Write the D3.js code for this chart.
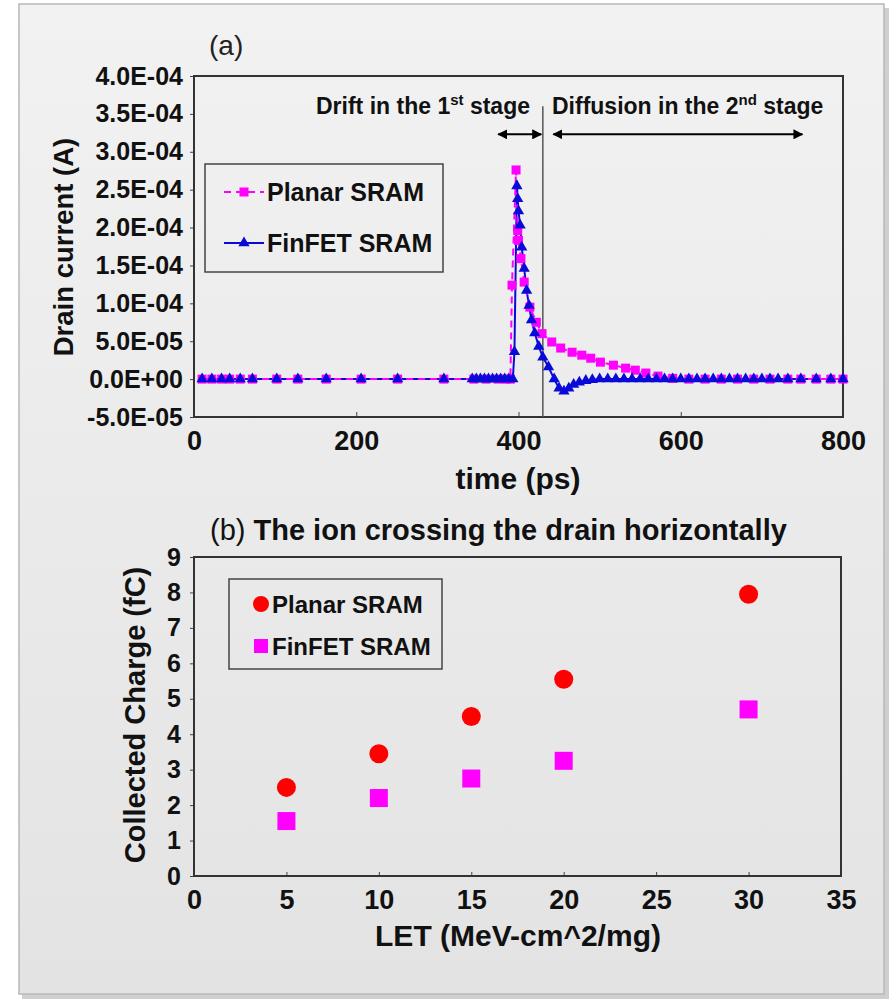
<!DOCTYPE html>
<html>
<head>
<meta charset="utf-8">
<script src="https://cdn.jsdelivr.net/npm/d3@7"></script>
<style>
  body { margin: 0; background: #ffffff; }
  svg { font-family: "Liberation Sans", Arial, sans-serif; }
</style>
</head>
<body>
<div id="chart"></div>
<script>
// ---- (a) drain current transients ----
var planarTime = [10, 22, 34, 44, 57, 72, 102, 128, 163, 206, 251, 308, 345, 360, 375, 385, 390,
  392, 397, 399, 400, 403, 407, 414, 422, 429, 441, 452, 466, 478, 489, 501, 517, 532, 544, 557, 572, 590,
  610, 630, 650, 670, 690, 710, 732, 748, 767, 785, 800];
var planarCurrent = [0, 0, 0, 0, 0, 0, 0, 0, 0, 0, 0, 0, 0, 0, 0, 0, 0,
  1.24e-4, 2.76e-4, 1.96e-4, 1.83e-4, 1.59e-4, 1.28e-4, 9.5e-5, 7.5e-5, 6.0e-5, 4.9e-5, 4.1e-5, 3.55e-5,
  3.16e-5, 2.76e-5, 2.24e-5, 1.84e-5, 1.45e-5, 1.18e-5, 8e-6, 4e-6, 1e-6,
  0, 0, 0, 0, 0, 0, 0, 0, 0, 0, 0];

var finfetTime = [10, 22, 34, 44, 57, 72, 102, 128, 163, 206, 251, 308, 343, 348, 353, 358, 363, 368, 373,
  378, 383, 388, 393, 395, 398, 399, 400, 402, 404, 407, 410, 413, 416, 420, 425, 430, 437, 444, 450, 456,
  462, 468, 475, 483, 491, 500, 510, 520, 530, 540, 550, 560, 570, 580, 590, 600, 610, 620, 630, 640, 650,
  660, 670, 680, 690, 700, 710, 720, 732, 748, 767, 785, 800];
var finfetCurrent = [0, 0, 0, 0, 0, 0, 0, 0, 0, 0, 0, 0, 0, 0, 0, 0, 0, 0, 0,
  0, 0, 0, 0, 3.6e-5, 2.55e-4, 2.38e-4, 2.22e-4, 2.03e-4, 1.74e-4, 1.46e-4, 1.17e-4, 9.7e-5, 7.8e-5, 6.1e-5,
  4.3e-5, 2.9e-5, 1.6e-5, 0, -1.2e-5, -1.6e-5, -1.2e-5, -7e-6, -4e-6, -2e-6, -1e-6,
  0, 0, 0, 0, 0, 0, 0, 0, 0, 0, 0, 0, 0, 0, 0, 0, 0, 0, 0, 0, 0, 0, 0, 0, 0, 0, 0, 0];

var timeTicks = [0, 200, 400, 600, 800];
var currentTicks = [-5e-5, 0, 5e-5, 1e-4, 1.5e-4, 2e-4, 2.5e-4, 3e-4, 3.5e-4, 4e-4];
var stageBoundary = 430;          // ps, vertical divider
var driftArrow = [375, 428];      // ps
var diffusionArrow = [443, 750];  // ps

// ---- (b) collected charge vs LET ----
var letValues = [5, 10, 15, 20, 30];
var planarCharge = [2.5, 3.45, 4.5, 5.55, 7.95];
var finfetCharge = [1.55, 2.2, 2.75, 3.25, 4.7];
var letTicks = [0, 5, 10, 15, 20, 25, 30, 35];
var chargeTicks = [0, 1, 2, 3, 4, 5, 6, 7, 8, 9];

var W = 893, H = 1000;
var BOLD = "bold";
var planarColor = "#ff00ff";
var finfetColor = "#0a0ad8";

var svg = d3.select("#chart").append("svg").attr("width", W).attr("height", H);

var defs = svg.append("defs");
var grad = defs.append("linearGradient").attr("id", "bg").attr("x1", 0).attr("y1", 0).attr("x2", 0).attr("y2", 1);
grad.append("stop").attr("offset", "0%").attr("stop-color", "#f2f2f2");
grad.append("stop").attr("offset", "100%").attr("stop-color", "#e3e3e3");

defs.append("marker").attr("id", "arrowEnd").attr("viewBox", "0 0 10 10")
  .attr("refX", 9).attr("refY", 5).attr("markerWidth", 5).attr("markerHeight", 5)
  .attr("orient", "auto-start-reverse")
  .append("path").attr("d", "M0,0L10,5L0,10z").attr("fill", "#000");

// panel with shadow
svg.append("rect").attr("x", 22).attr("y", 8).attr("width", 867).attr("height", 991).attr("fill", "#cfcfcf");
svg.append("rect").attr("x", 19).attr("y", 4).attr("width", 865).attr("height", 990)
  .attr("fill", "url(#bg)").attr("stroke", "#b8b8b8").attr("stroke-width", 1.5);

function sciLabel(v) {
  if (v === 0) return "0.0E+00";
  var s = v.toExponential(1).toUpperCase(); // e.g. 4.0E-4
  var m = s.split("E");
  var exp = parseInt(m[1], 10);
  var sign = exp < 0 ? "-" : "+";
  var e = Math.abs(exp);
  return m[0] + "E" + sign + (e < 10 ? "0" + e : e);
}

function frame(g, x, y) {
  g.append("rect")
    .attr("x", x.range()[0]).attr("y", y.range()[1])
    .attr("width", x.range()[1] - x.range()[0])
    .attr("height", y.range()[0] - y.range()[1])
    .attr("fill", "none").attr("stroke", "#333").attr("stroke-width", 2);
}

function styleAxis(sel, size) {
  sel.select(".domain").remove();
  sel.selectAll(".tick line").attr("stroke", "#444");
  sel.selectAll(".tick text")
    .attr("font-family", "'Liberation Sans', Arial, sans-serif")
    .attr("font-weight", BOLD).attr("font-size", size).attr("fill", "#111");
}

// ================= chart (a) =================
var xa = d3.scaleLinear().domain([0, 800]).range([194, 843]);
var ya = d3.scaleLinear().domain([-5e-5, 4e-4]).range([417, 76]);
var ga = svg.append("g");

ga.append("text").attr("x", 209).attr("y", 55).attr("font-size", 28).attr("fill", "#222").text("(a)");

var xAxisA = ga.append("g").attr("transform", "translate(0," + ya.range()[0] + ")")
  .call(d3.axisBottom(xa).tickValues(timeTicks).tickSize(-5).tickPadding(14).tickFormat(d3.format("d")));
styleAxis(xAxisA, 27);

var yAxisA = ga.append("g").attr("transform", "translate(" + xa.range()[0] + ",0)")
  .call(d3.axisLeft(ya).tickValues(currentTicks).tickSize(4).tickPadding(7).tickFormat(sciLabel));
styleAxis(yAxisA, 25);

frame(ga, xa, ya);

// stage divider + annotations
ga.append("line")
  .attr("x1", xa(stageBoundary)).attr("x2", xa(stageBoundary))
  .attr("y1", ya(3.6e-4)).attr("y2", ya.range()[0])
  .attr("stroke", "#555").attr("stroke-width", 1.5);

var arrowY = ya(3.23e-4);
[driftArrow, diffusionArrow].forEach(function (a) {
  ga.append("line")
    .attr("x1", xa(a[0])).attr("x2", xa(a[1]))
    .attr("y1", arrowY).attr("y2", arrowY)
    .attr("stroke", "#000").attr("stroke-width", 2)
    .attr("marker-start", "url(#arrowEnd)").attr("marker-end", "url(#arrowEnd)");
});

var textY = ya(3.5e-4);
var t1 = ga.append("text").attr("x", 316).attr("y", textY).attr("font-weight", BOLD).attr("font-size", 23).attr("fill", "#111");
t1.append("tspan").text("Drift in the 1");
t1.append("tspan").attr("font-size", 15).attr("dy", -9).text("st");
t1.append("tspan").attr("dy", 9).text(" stage");

var t2 = ga.append("text").attr("x", 552).attr("y", textY).attr("font-weight", BOLD).attr("font-size", 23).attr("fill", "#111");
t2.append("tspan").text("Diffusion in the 2");
t2.append("tspan").attr("font-size", 15).attr("dy", -9).text("nd");
t2.append("tspan").attr("dy", 9).text(" stage");

// series
var planarPts = planarTime.map(function (t, i) { return [t, planarCurrent[i]]; });
var finfetPts = finfetTime.map(function (t, i) { return [t, finfetCurrent[i]]; });
var lineA = d3.line().x(function (d) { return xa(d[0]); }).y(function (d) { return ya(d[1]); });

ga.append("path").datum(finfetPts).attr("d", lineA)
  .attr("fill", "none").attr("stroke", finfetColor).attr("stroke-width", 2);
ga.append("path").datum(planarPts).attr("d", lineA)
  .attr("fill", "none").attr("stroke", planarColor).attr("stroke-width", 2).attr("stroke-dasharray", "7,5");

ga.selectAll(".psq").data(planarPts).enter().append("rect")
  .attr("x", function (d) { return xa(d[0]) - 4.5; })
  .attr("y", function (d) { return ya(d[1]) - 4.5; })
  .attr("width", 9).attr("height", 9).attr("fill", planarColor);

var tri = d3.symbol().type(d3.symbolTriangle).size(55);
ga.selectAll(".ftri").data(finfetPts).enter().append("path")
  .attr("d", tri)
  .attr("transform", function (d) { return "translate(" + xa(d[0]) + "," + ya(d[1]) + ")"; })
  .attr("fill", finfetColor);

// axis titles
ga.append("text").attr("x", 518).attr("y", 489).attr("text-anchor", "middle")
  .attr("font-weight", BOLD).attr("font-size", 30).attr("fill", "#111").text("time (ps)");
ga.append("text").attr("transform", "translate(73,247) rotate(-90)").attr("text-anchor", "middle")
  .attr("font-weight", BOLD).attr("font-size", 27.5).attr("fill", "#111").text("Drain current (A)");

// legend (a)
var lgA = ga.append("g");
lgA.append("rect").attr("x", 205).attr("y", 164).attr("width", 238).attr("height", 108)
  .attr("fill", "none").attr("stroke", "#444").attr("stroke-width", 1.5);
lgA.append("line").attr("x1", 224).attr("x2", 264).attr("y1", 192).attr("y2", 192)
  .attr("stroke", planarColor).attr("stroke-width", 2).attr("stroke-dasharray", "7,5");
lgA.append("rect").attr("x", 239.5).attr("y", 187.5).attr("width", 9).attr("height", 9).attr("fill", planarColor);
lgA.append("text").attr("x", 267).attr("y", 201).attr("font-weight", BOLD).attr("font-size", 25).attr("fill", "#111").text("Planar SRAM");
lgA.append("line").attr("x1", 224).attr("x2", 264).attr("y1", 243).attr("y2", 243)
  .attr("stroke", finfetColor).attr("stroke-width", 2);
lgA.append("path").attr("d", tri).attr("transform", "translate(244,243)").attr("fill", finfetColor);
lgA.append("text").attr("x", 267).attr("y", 252).attr("font-weight", BOLD).attr("font-size", 25).attr("fill", "#111").text("FinFET SRAM");

// ================= chart (b) =================
var xb = d3.scaleLinear().domain([0, 35]).range([194, 841]);
var yb = d3.scaleLinear().domain([0, 9]).range([876, 557]);
var gb = svg.append("g");

var tb = gb.append("text").attr("x", 210).attr("y", 540).attr("font-size", 29).attr("fill", "#111");
tb.append("tspan").text("(b) ");
tb.append("tspan").attr("font-weight", BOLD).text("The ion crossing the drain horizontally");

var xAxisB = gb.append("g").attr("transform", "translate(0," + yb.range()[0] + ")")
  .call(d3.axisBottom(xb).tickValues(letTicks).tickSize(-4).tickPadding(14).tickFormat(d3.format("d")));
styleAxis(xAxisB, 27);

var yAxisB = gb.append("g").attr("transform", "translate(" + xb.range()[0] + ",0)")
  .call(d3.axisLeft(yb).tickValues(chargeTicks).tickSize(4).tickPadding(9).tickFormat(d3.format("d")));
styleAxis(yAxisB, 25);

frame(gb, xb, yb);

gb.selectAll(".pc").data(letValues).enter().append("circle")
  .attr("cx", function (d) { return xb(d); })
  .attr("cy", function (d, i) { return yb(planarCharge[i]); })
  .attr("r", 9.5).attr("fill", "#ff0000");

gb.selectAll(".fs").data(letValues).enter().append("rect")
  .attr("x", function (d) { return xb(d) - 9; })
  .attr("y", function (d, i) { return yb(finfetCharge[i]) - 9; })
  .attr("width", 18).attr("height", 18).attr("fill", planarColor);

gb.append("text").attr("x", 518).attr("y", 946).attr("text-anchor", "middle")
  .attr("font-weight", BOLD).attr("font-size", 30).attr("fill", "#111").text("LET (MeV-cm^2/mg)");
gb.append("text").attr("transform", "translate(145,715) rotate(-90)").attr("text-anchor", "middle")
  .attr("font-weight", BOLD).attr("font-size", 29).attr("fill", "#111").text("Collected Charge (fC)");

// legend (b)
var lgB = gb.append("g");
lgB.append("rect").attr("x", 229).attr("y", 579).attr("width", 213).attr("height", 90)
  .attr("fill", "none").attr("stroke", "#444").attr("stroke-width", 1.5);
lgB.append("circle").attr("cx", 261).attr("cy", 604).attr("r", 8).attr("fill", "#ff0000");
lgB.append("text").attr("x", 272).attr("y", 613).attr("font-weight", BOLD).attr("font-size", 24).attr("fill", "#111").text("Planar SRAM");
lgB.append("rect").attr("x", 254).attr("y", 639).attr("width", 14).attr("height", 14).attr("fill", planarColor);
lgB.append("text").attr("x", 272).attr("y", 655).attr("font-weight", BOLD).attr("font-size", 24).attr("fill", "#111").text("FinFET SRAM");
</script>
</body>
</html>
